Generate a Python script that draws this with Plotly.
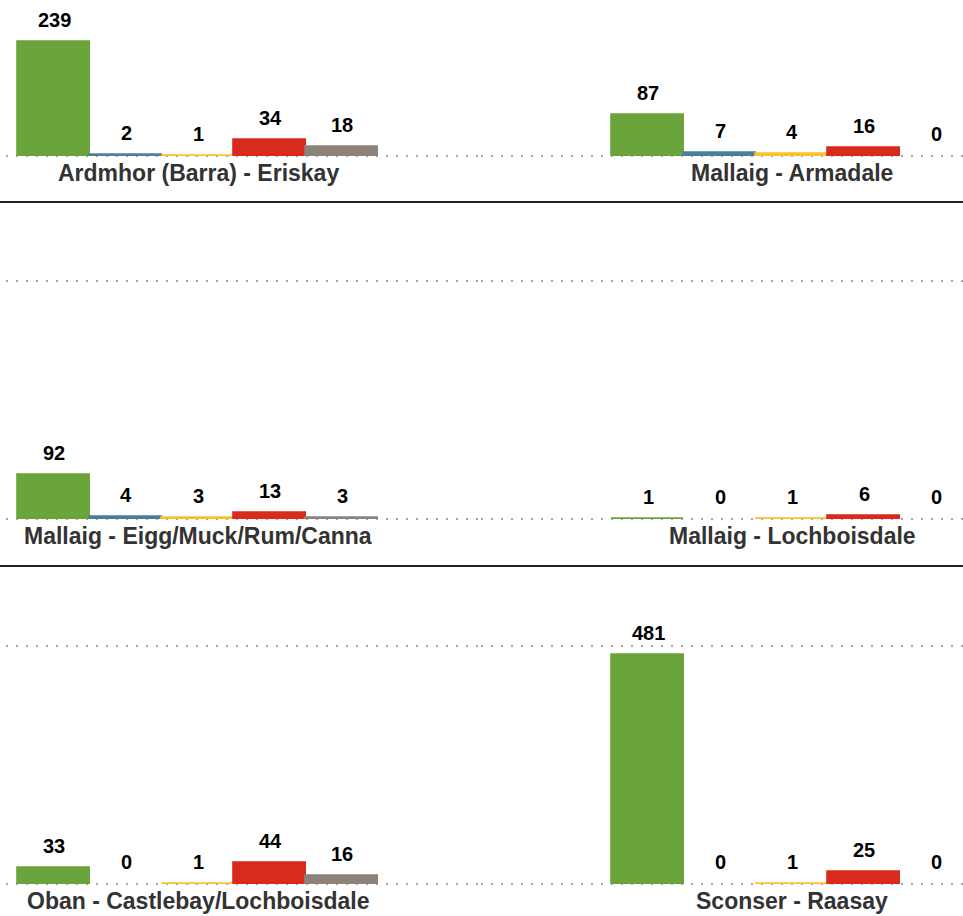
import plotly.graph_objects as go

# ---- data ----
routes = [
    "Ardmhor (Barra) - Eriskay",
    "Mallaig - Armadale",
    "Mallaig - Eigg/Muck/Rum/Canna",
    "Mallaig - Lochboisdale",
    "Oban - Castlebay/Lochboisdale",
    "Sconser - Raasay",
]
categories = ["A", "B", "C", "D", "E"]
values_ardmhor = [239, 2, 1, 34, 18]
values_armadale = [87, 7, 4, 16, 0]
values_eigg = [92, 4, 3, 13, 3]
values_lochboisdale = [1, 0, 1, 6, 0]
values_oban = [33, 0, 1, 44, 16]
values_sconser = [481, 0, 1, 25, 0]
all_values = [values_ardmhor, values_armadale, values_eigg,
              values_lochboisdale, values_oban, values_sconser]
bar_colors = ["#6ba43a", "#4a7f97", "#f7c22f", "#d92a1e", "#8d8279"]

# ---- layout geometry (pixels) ----
W, H = 963, 916
ppu = 0.4767  # pixels per unit (shared scale)
rows_px = [(0, 156), (204, 519), (568, 884)]  # (top, baseline)
cols_px = [(6, 481, 18), (481, 963, 612)]      # (left, right, first bar left edge)
bar_px = 72
below_px = 4  # extra plot area below the baseline so the zero gridline is drawn

fig = go.Figure()
layout_axes = {}
annotations = []

for idx, (route, vals) in enumerate(zip(routes, all_values)):
    r, c = divmod(idx, 2)
    top, base = rows_px[r]
    left, right, bar0 = cols_px[c]
    n = idx + 1
    xa = "x" if n == 1 else f"x{n}"
    ya = "y" if n == 1 else f"y{n}"
    xkey = "xaxis" if n == 1 else f"xaxis{n}"
    ykey = "yaxis" if n == 1 else f"yaxis{n}"

    xs = list(range(len(categories)))
    fig.add_trace(go.Bar(
        x=xs, y=vals, width=1,
        marker=dict(color=bar_colors,
                    line=dict(color=bar_colors,
                              width=[1.8 if v > 0 else 0 for v in vals])),
        xaxis=xa, yaxis=ya, showlegend=False, hoverinfo="skip",
    ))

    x0 = -0.5 + (left - bar0) / bar_px
    x1 = -0.5 + (right - bar0) / bar_px
    ymax = (base - top) / ppu
    ymin = -below_px / ppu
    layout_axes[xkey] = dict(
        domain=[left / W, right / W], range=[x0, x1],
        showgrid=False, zeroline=False, showticklabels=False, ticks="",
        anchor=ya, fixedrange=True,
    )
    layout_axes[ykey] = dict(
        domain=[(H - base - below_px) / H, (H - top) / H], range=[ymin, ymax],
        tickvals=[0, 500], showticklabels=False, ticks="",
        showgrid=True, gridcolor="#a6a6a6", gridwidth=1.5, griddash="2px,8px",
        zeroline=False, anchor=xa, fixedrange=True,
    )

    for i, v in enumerate(vals):
        annotations.append(dict(
            x=i, y=v, xref=xa, yref=ya, text=str(v), showarrow=False,
            yanchor="middle", yshift=22,
            font=dict(family="Liberation Sans", size=20, color="#000000", weight="bold"),
        ))
    annotations.append(dict(
        x=2, y=0, xref=xa, yref=ya, text=route, showarrow=False,
        yanchor="middle", yshift=-17,
        font=dict(family="Liberation Sans", size=23, color="#333333", weight="bold"),
    ))

shapes = []
for ypx in [202, 566]:
    shapes.append(dict(type="line", xref="paper", yref="paper",
                       x0=0, x1=1, y0=(H - ypx) / H, y1=(H - ypx) / H,
                       line=dict(color="#222222", width=2)))

fig.update_layout(
    width=W, height=H, margin=dict(l=0, r=0, t=0, b=0),
    paper_bgcolor="white", plot_bgcolor="rgba(0,0,0,0)",
    bargap=0, annotations=annotations, shapes=shapes,
    **layout_axes,
)

fig.write_html("out.html", config={"displayModeBar": False},
               post_script="document.body.style.margin='0';document.body.style.overflow='hidden';")
